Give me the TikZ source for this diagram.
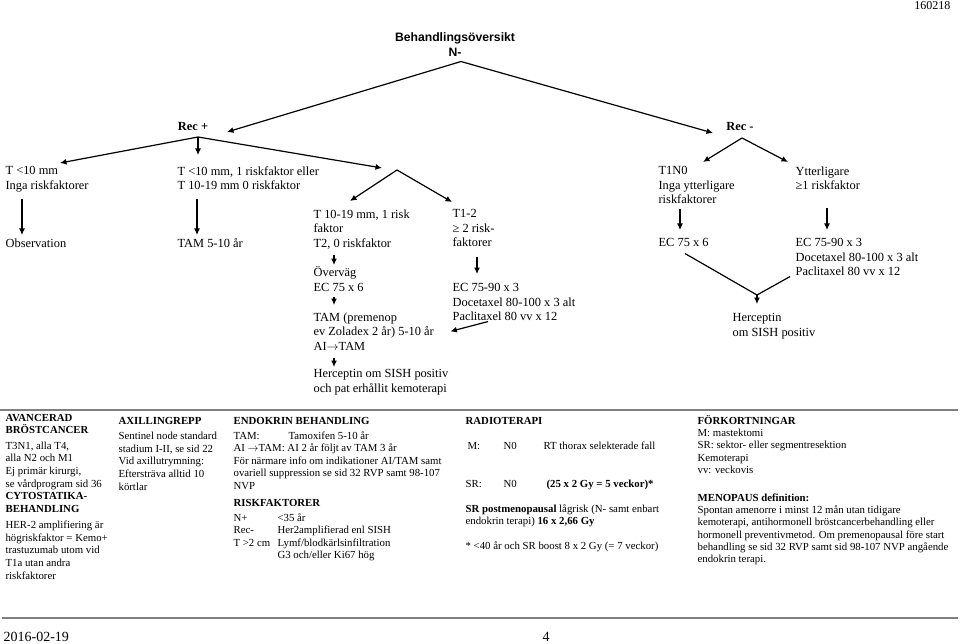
\documentclass[tikz,border=0pt]{standalone}
\usepackage{fontspec}
\setmainfont{Liberation Serif}
\newfontfamily\arialfont{Liberation Sans}
\usetikzlibrary{positioning,arrows.meta}
\tikzset{
    txt/.style = {
        anchor=north west,
        inner sep=0pt,
        align=left,
        font=\fontsize{12.4}{14.5}\selectfont
    },
    rec/.style = {
        inner sep=0pt,
        font=\fontsize{12.4}{14.5}\selectfont\bfseries
    },
    note/.style = {
        anchor=north west,
        inner sep=0pt,
        align=left,
        font=\fontsize{10.8}{12.5}\selectfont
    },
    hrule/.style = {
        draw=gray,
        line width=1.5pt
    },
    every path/.style = {line width=1.2pt},
    >={Latex[length=6.5pt,width=6pt]},
}

\begin{document}
\begin{tikzpicture}[x=1pt,y=-1pt]
\useasboundingbox (0,0) rectangle (960,644);

\node[anchor=north east,inner sep=0pt,font=\fontsize{12}{13}\selectfont] (datum) at (951,1) {160218};
\node[inner sep=0pt,align=center,font=\arialfont\bfseries\fontsize{12.2}{15}\selectfont] (title) at (455,45) {Behandlingsöversikt\\N-};

\node[rec] (recp) at (193,127) {Rec +};
\node[rec] (recm) at (740,127) {Rec -};
\coordinate (recpfork) at (198,137);
\coordinate (recmfork) at (742,138);
\coordinate (tforkin) at (382,168);
\coordinate (tfork) at (397,170);
\coordinate (hfork) at (757,295);

% Rec +
\node[txt] (t10) at (5,166) {T <10 mm\\Inga riskfaktorer};
\node[txt] (t10r) at (177,166) {T <10 mm, 1 riskfaktor eller\\T 10-19 mm 0 riskfaktor};
\node[txt] (obs) at (5,238) {Observation};
\node[txt] (tam) at (177,238) {TAM 5-10 år};
\node[txt] (t1019) at (313,209) {T 10-19 mm, 1 risk\\faktor\\T2, 0 riskfaktor};
\node[txt] (t12) at (452,209) {T1-2\\≥ 2 risk-\\faktorer};
\node[txt] (overvag) at (313,266) {Överväg\\EC 75 x 6};
\node[txt] (ec1) at (452,283) {EC 75-90 x 3\\Docetaxel 80-100 x 3 alt\\Paclitaxel 80 vv x 12};
\node[txt] (tampre) at (313,312) {TAM (premenop\\ev Zoladex 2 år) 5-10 år\\AI$\rightarrow$TAM};
\node[txt] (herc1) at (313,369) {Herceptin om SISH positiv\\och pat erhållit kemoterapi};

% Rec -
\node[txt] (t1n0) at (658,166) {T1N0\\Inga ytterligare\\riskfaktorer};
\node[txt] (ytt) at (795,166) {Ytterligare\\≥1 riskfaktor};
\node[txt] (ec75) at (658,238) {EC 75 x 6};
\node[txt] (ec2) at (795,238) {EC 75-90 x 3\\Docetaxel 80-100 x 3 alt\\Paclitaxel 80 vv x 12};
\node[txt] (herc2) at (732,313) {Herceptin\\om SISH positiv};

\path[draw, ->] ([xshift=6pt,yshift=-4pt]title.south) -- ([xshift=34pt,yshift=-5pt]recp.center);
\path[draw, ->] ([xshift=6pt,yshift=-4pt]title.south) -- ([xshift=-27pt,yshift=-6pt]recm.center);

\path[draw, ->] (recpfork) -- ([xshift=55pt,yshift=3pt]t10.north west);
\path[draw, ->] (recpfork) -- ([xshift=21pt,yshift=11pt]t10r.north west);
\path[draw, ->] (recpfork) -- (tforkin);
\path[draw, ->] (tfork) -- ([xshift=37pt,yshift=8pt]t1019.north west);
\path[draw, ->] (tfork) -- ([yshift=7pt]t12.north west);
\path[draw, ->] ([xshift=17pt,yshift=-6pt]t10.south west) -- ([xshift=17pt,yshift=3pt]obs.north west);
\path[draw, ->] ([xshift=20pt,yshift=-8pt]t10r.south west) -- ([xshift=20pt,yshift=3pt]tam.north west);
\path[draw, ->] ([xshift=21pt,yshift=-5pt]t1019.south west) -- ([xshift=21pt,yshift=1pt]overvag.north west);
\path[draw, ->] ([xshift=21pt,yshift=-5pt]overvag.south west) -- ([xshift=21pt,yshift=7pt]tampre.north west);
\path[draw, ->] ([xshift=21pt,yshift=-7pt]tampre.south west) -- ([xshift=21pt,yshift=2pt]herc1.north west);
\path[draw, ->] ([xshift=25pt,yshift=-9pt]t12.south west) -- ([xshift=25pt,yshift=9pt]ec1.north west);
\path[draw, ->] ([xshift=36pt]ec1.south west) -- ([xshift=16pt]tampre.east);

\path[draw, ->] (recmfork) -- ([xshift=45pt,yshift=4pt]t1n0.north west);
\path[draw, ->] (recmfork) -- ([xshift=-7pt,yshift=4pt]ytt.north west);
\path[draw, ->] ([xshift=22pt,yshift=-4pt]t1n0.south west) -- ([xshift=22pt,yshift=8pt]ec75.north west);
\path[draw, ->] ([xshift=32pt,yshift=-18pt]ytt.south west) -- ([xshift=32pt,yshift=8pt]ec2.north west);
\path[draw] ([xshift=27pt,yshift=-6pt]ec75.south west) -- (hfork);
\path[draw] ([xshift=-5pt]ec2.south west) -- (hfork);
\path[draw, ->] (hfork) -- ([xshift=25pt,yshift=9pt]herc2.north west);

% notes
\path[hrule] (0,410) -- (958,410);
\node[note,font=\fontsize{10.8}{12.7}\selectfont] (avanc) at (5,413.5) {\textbf{AVANCERAD}\\\textbf{BRÖSTCANCER}\\[2.5pt]
  T3N1, alla T4,\\alla N2 och M1\\Ej primär kirurgi,\\se vårdprogram sid 36\\
  \textbf{CYTOSTATIKA-}\\\textbf{BEHANDLING}\\[3pt]
  HER-2 amplifiering är\\högriskfaktor = Kemo+\\trastuzumab utom vid\\T1a utan andra\\riskfaktorer};
\node[note,font=\fontsize{10.8}{12.7}\selectfont] (axill) at (118,416.5) {\textbf{AXILLINGREPP}\\[2.5pt]
  Sentinel node standard\\stadium I-II, se sid 22\\Vid axillutrymning:\\Eftersträva alltid 10\\körtlar};
\node[note] (endo) at (233,416.5) {\textbf{ENDOKRIN BEHANDLING}\\[2.5pt]
  \makebox[55pt][l]{TAM:}Tamoxifen 5-10 år\\
  AI $\rightarrow$TAM: AI 2 år följt av TAM 3 år\\
  För närmare info om indikationer AI/TAM samt\\
  ovariell suppression se sid 32 RVP samt 98-107\\
  NVP\\[4.5pt]
  \textbf{RISKFAKTORER}\\[2.5pt]
  \makebox[44pt][l]{N+}<35 år\\
  \makebox[44pt][l]{Rec-}Her2amplifierad enl SISH\\
  \makebox[44pt][l]{T >2 cm}Lymf/blodkärlsinfiltration\\
  \hspace*{44pt}G3 och/eller Ki67 hög};
\node[note] (radio) at (465,416.5) {\textbf{RADIOTERAPI}\\[12.5pt]
  \hspace*{2pt}\makebox[36pt][l]{M:}\makebox[40pt][l]{N0}RT thorax selekterade fall\\[25.5pt]
  \makebox[38pt][l]{SR:}\makebox[43pt][l]{N0}\textbf{(25 x 2 Gy = 5 veckor)*}\\[12.5pt]
  \textbf{SR postmenopausal} lågrisk (N- samt enbart\\
  endokrin terapi) \textbf{16 x 2,66 Gy}\\[12.5pt]
  * <40 år och SR boost 8 x 2 Gy (= 7 veckor)};
\node[note,font=\fontsize{10.8}{12.3}\selectfont] (fork) at (697,414.6) {\textbf{FÖRKORTNINGAR}\\
  M: mastektomi\\SR: sektor- eller segmentresektion\\Kemoterapi\\vv: veckovis\\[15.5pt]
  \textbf{MENOPAUS definition:}\\
  Spontan amenorre i minst 12 mån utan tidigare\\
  kemoterapi, antihormonell bröstcancerbehandling eller\\
  hormonell preventivmetod. Om premenopausal före start\\
  behandling se sid 32 RVP samt sid 98-107 NVP angående\\
  endokrin terapi.};

\path[hrule] (2,618) -- (958,618);
\node[anchor=west,inner sep=0pt,font=\fontsize{14}{16}\selectfont] (dag) at (3,637) {2016-02-19};
\node[inner sep=0pt,font=\fontsize{14}{16}\selectfont] (sida) at (546,637) {4};
\end{tikzpicture}
\end{document}
